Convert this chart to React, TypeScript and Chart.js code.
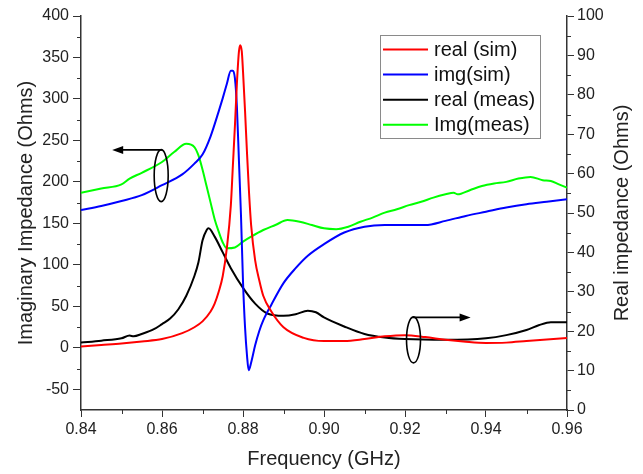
import React, { useEffect, useRef } from 'react';
import { Chart, registerables } from 'chart.js';

Chart.register(...registerables);

// ---------- tick labels ----------
const freqTicks = [0.84, 0.86, 0.88, 0.9, 0.92, 0.94, 0.96];
const freqMinor = [0.85, 0.87, 0.89, 0.91, 0.93, 0.95];
const leftTicks = [-50, 0, 50, 100, 150, 200, 250, 300, 350, 400];
const leftMinor = [-25, 25, 75, 125, 175, 225, 275, 325, 375];
const rightTicks = [0, 10, 20, 30, 40, 50, 60, 70, 80, 90, 100];
const rightMinor = [5, 15, 25, 35, 45, 55, 65, 75, 85, 95];

// ---------- series ----------
// real (sim) – right axis (Ohms)
const realSimFreq = [0.84, 0.845, 0.85, 0.855, 0.86, 0.865, 0.868, 0.87, 0.872, 0.873, 0.874, 0.875, 0.876, 0.877, 0.8775, 0.878, 0.8785, 0.879, 0.8793, 0.8797, 0.88, 0.8805, 0.881, 0.8815, 0.882, 0.883, 0.884, 0.885, 0.887, 0.89, 0.895, 0.9, 0.905, 0.91, 0.915, 0.92, 0.925, 0.93, 0.935, 0.94, 0.945, 0.95, 0.955, 0.96];
const realSimVals = [16.1, 16.5, 16.9, 17.4, 18.0, 19.5, 21, 22.5, 25, 27, 30, 34, 41, 52, 62, 72, 83, 91, 92.6, 91, 86, 76, 65, 55, 47, 38, 33, 29, 25, 21, 18.3, 17.5, 17.5, 18, 18.7, 19, 18.5, 17.8, 17.3, 17, 17.1, 17.5, 17.9, 18.3];

// img(sim) – left axis (Ohms)
const imgSimFreq = [0.84, 0.845, 0.85, 0.855, 0.86, 0.865, 0.868, 0.87, 0.872, 0.874, 0.875, 0.876, 0.877, 0.8775, 0.878, 0.8785, 0.879, 0.8795, 0.88, 0.8805, 0.881, 0.8814, 0.882, 0.883, 0.884, 0.885, 0.887, 0.89, 0.893, 0.896, 0.9, 0.905, 0.91, 0.915, 0.92, 0.925, 0.93, 0.935, 0.94, 0.945, 0.95, 0.955, 0.96];
const imgSimVals = [166, 171, 177, 184, 196, 209, 222, 233, 255, 285, 301, 318, 334, 334, 325, 290, 225, 160, 80, 25, -10, -27, -18, 3, 20, 33, 52, 78, 96, 111, 125, 139, 146, 148, 148, 148, 153, 159, 164, 169, 173, 176, 179];

// real (meas) – right axis (Ohms)
const realMeasFreq = [0.84, 0.845, 0.85, 0.852, 0.853, 0.855, 0.858, 0.86, 0.862, 0.864, 0.866, 0.868, 0.869, 0.87, 0.871, 0.8715, 0.873, 0.875, 0.877, 0.88, 0.883, 0.886, 0.89, 0.893, 0.896, 0.898, 0.9, 0.905, 0.91, 0.915, 0.92, 0.93, 0.94, 0.945, 0.95, 0.953, 0.956, 0.96];
const realMeasVals = [17.1, 17.6, 18.2, 18.9, 18.7, 19.3, 20.5, 21.8, 23.2, 25.5, 29, 34, 37.5, 43, 45.6, 46.1, 44, 40, 36, 31, 27, 24.5, 23.9, 24.3, 25.2, 24.8, 23.5, 21.2, 19.3, 18.4, 18.0, 17.8, 18.2, 19, 20.3, 21.5, 22.3, 22.3];

// Img(meas) – left axis (Ohms)
const imgMeasFreq = [0.84, 0.845, 0.85, 0.852, 0.855, 0.86, 0.863, 0.866, 0.868, 0.869, 0.87, 0.871, 0.872, 0.873, 0.874, 0.875, 0.876, 0.878, 0.88, 0.882, 0.885, 0.888, 0.891, 0.894, 0.897, 0.9, 0.903, 0.906, 0.909, 0.912, 0.915, 0.918, 0.921, 0.924, 0.927, 0.93, 0.932, 0.933, 0.936, 0.939, 0.942, 0.945, 0.948, 0.951, 0.954, 0.956, 0.958, 0.96];
const imgMeasVals = [187, 192, 197, 204, 211, 224, 236, 246, 242, 232, 215, 195, 175, 155, 140, 127, 120, 121, 128, 134, 142, 148, 154, 152, 148, 144, 143, 146, 152, 157, 163, 167, 172, 176, 181, 185, 187, 185, 190, 195, 198, 200, 204, 206, 202, 201, 197, 193];

const seriesLabels = ['real (sim)', 'img(sim)', 'real (meas)', 'Img(meas)'];
const seriesColors = ['#ff0000', '#0000ff', '#000000', '#00ff00'];
const rightTitle = 'Real impedance (Ohms)';

// annotation anchors (data coordinates)
const leftMarker = { f: 0.8598, v: 207.6, tipF: 0.8477, arrowV: 238.5 };
const rightMarker = { f: 0.9221, v: 17.8, tipF: 0.9362, arrowV: 23.5 };

const FONT = "'Liberation Sans', Arial, sans-serif";
const AXIS = '#333333';
const TEXT = '#222222';

const zip = (xs: number[], ys: number[]) => xs.map((x, i) => ({ x, y: ys[i] }));

const decorPlugin = {
  id: 'decor',
  afterDraw(chart: any) {
    const { ctx, chartArea } = chart;
    const sx = chart.scales.x;
    const yl = chart.scales.yL;
    const yr = chart.scales.yR;
    ctx.save();
    // minor ticks
    ctx.strokeStyle = AXIS;
    ctx.lineWidth = 1;
    ctx.beginPath();
    leftMinor.forEach((v) => {
      const y = Math.round(yl.getPixelForValue(v)) + 0.5;
      ctx.moveTo(chartArea.left - 4, y);
      ctx.lineTo(chartArea.left, y);
    });
    rightMinor.forEach((v) => {
      const y = Math.round(yr.getPixelForValue(v)) + 0.5;
      ctx.moveTo(chartArea.right, y);
      ctx.lineTo(chartArea.right + 4, y);
    });
    freqMinor.forEach((f) => {
      const x = Math.round(sx.getPixelForValue(f)) + 0.5;
      ctx.moveTo(x, chartArea.bottom);
      ctx.lineTo(x, chartArea.bottom + 4);
    });
    ctx.stroke();

    // right axis title, reading bottom-to-top like the left one
    ctx.save();
    ctx.translate(yr.right - 21, (chartArea.top + chartArea.bottom) / 2);
    ctx.rotate(-Math.PI / 2);
    ctx.font = `20px ${FONT}`;
    ctx.fillStyle = TEXT;
    ctx.textAlign = 'center';
    ctx.textBaseline = 'middle';
    ctx.fillText(rightTitle, 0, 0);
    ctx.restore();

    // annotations: ellipses with arrows
    const drawMarker = (m: any, yScale: any, ry: number, dir: number) => {
      const cx = sx.getPixelForValue(m.f);
      const cy = yScale.getPixelForValue(m.v);
      const ay = yScale.getPixelForValue(m.arrowV);
      const tx = sx.getPixelForValue(m.tipF);
      ctx.strokeStyle = '#000';
      ctx.lineWidth = 1.6;
      ctx.beginPath();
      ctx.ellipse(cx, cy, 7, ry, 0, 0, Math.PI * 2);
      ctx.stroke();
      ctx.lineWidth = 1.8;
      ctx.beginPath();
      ctx.moveTo(cx + dir * -1, ay);
      ctx.lineTo(tx - dir * 8, ay);
      ctx.stroke();
      ctx.fillStyle = '#000';
      ctx.beginPath();
      ctx.moveTo(tx, ay);
      ctx.lineTo(tx - dir * 11, ay - 4);
      ctx.lineTo(tx - dir * 11, ay + 4);
      ctx.closePath();
      ctx.fill();
    };
    drawMarker(leftMarker, yl, 26, -1);
    drawMarker(rightMarker, yr, 23, 1);

    // legend box
    const bx = chartArea.right - 187;
    const by = chartArea.top + 19;
    const bw = 160;
    const bh = 103;
    ctx.fillStyle = '#ffffff';
    ctx.fillRect(bx, by, bw, bh);
    ctx.strokeStyle = '#8a8a8a';
    ctx.lineWidth = 1;
    ctx.strokeRect(bx + 0.5, by + 0.5, bw, bh);
    ctx.font = `20px ${FONT}`;
    ctx.textBaseline = 'middle';
    ctx.textAlign = 'left';
    chart.data.datasets.forEach((ds: any, i: number) => {
      const y = by + 14.5 + i * 25.1;
      ctx.strokeStyle = ds.borderColor;
      ctx.lineWidth = 2;
      ctx.beginPath();
      ctx.moveTo(bx + 3, y);
      ctx.lineTo(bx + 48, y);
      ctx.stroke();
      ctx.fillStyle = '#111';
      ctx.fillText(ds.label, bx + 54, y + 1);
    });
    ctx.restore();
  },
};

export default function App() {
  const ref = useRef<HTMLCanvasElement | null>(null);
  useEffect(() => {
    document.body.style.margin = '0';
    const canvas = ref.current!;
    const tickFont = { family: FONT, size: 16 };
    const titleFont = { family: FONT, size: 20, lineHeight: 1.2 };
    const chart = new Chart(canvas, {
      type: 'line',
      data: {
        datasets: [
          { label: seriesLabels[0], data: zip(realSimFreq, realSimVals), borderColor: seriesColors[0], yAxisID: 'yR' },
          { label: seriesLabels[1], data: zip(imgSimFreq, imgSimVals), borderColor: seriesColors[1], yAxisID: 'yL' },
          { label: seriesLabels[2], data: zip(realMeasFreq, realMeasVals), borderColor: seriesColors[2], yAxisID: 'yR' },
          { label: seriesLabels[3], data: zip(imgMeasFreq, imgMeasVals), borderColor: seriesColors[3], yAxisID: 'yL' },
        ].map((d) => ({ ...d, borderWidth: 2, pointRadius: 0, fill: false, cubicInterpolationMode: 'monotone' as const })),
      },
      options: {
        animation: false,
        responsive: false,
        devicePixelRatio: 1,
        layout: { padding: { top: 16, right: 0, left: 0, bottom: 0 } },
        plugins: { legend: { display: false }, tooltip: { enabled: false } },
        scales: {
          x: {
            type: 'linear',
            min: 0.84,
            max: 0.96,
            afterBuildTicks: (s: any) => { s.ticks = freqTicks.map((v) => ({ value: v })); },
            afterFit: (s: any) => { s.height = 64; },
            ticks: { font: tickFont, color: TEXT, padding: 3, maxRotation: 0, callback: (v: any) => Number(v).toFixed(2) },
            grid: { drawOnChartArea: false, drawTicks: true, tickLength: 7, color: AXIS },
            border: { display: true, color: AXIS, width: 1.5 },
            title: { display: true, text: 'Frequency (GHz)', font: titleFont, color: TEXT, padding: { top: 0, bottom: 3 } },
          },
          yL: {
            type: 'linear',
            position: 'left',
            min: -75,
            max: 400,
            afterBuildTicks: (s: any) => { s.ticks = leftTicks.map((v) => ({ value: v })); },
            afterFit: (s: any) => { s.width = 81; },
            ticks: { font: tickFont, color: TEXT, padding: 4 },
            grid: { drawOnChartArea: false, drawTicks: true, tickLength: 8, color: AXIS },
            border: { display: true, color: AXIS, width: 1.5 },
            title: { display: true, text: 'Imaginary Impedance (Ohms)', font: titleFont, color: TEXT, padding: { top: 14, bottom: 0 } },
          },
          yR: {
            type: 'linear',
            position: 'right',
            min: 0,
            max: 100,
            afterBuildTicks: (s: any) => { s.ticks = rightTicks.map((v) => ({ value: v })); },
            afterFit: (s: any) => { s.width = 76; },
            ticks: { font: tickFont, color: TEXT, padding: 3 },
            grid: { drawOnChartArea: false, drawTicks: true, tickLength: 7, color: AXIS },
            border: { display: true, color: AXIS, width: 1.5 },
            title: { display: false },
          },
        },
      },
      plugins: [decorPlugin],
    } as any);
    return () => chart.destroy();
  }, []);

  return (
    <div style={{ position: 'fixed', left: 0, top: 0, width: 643, height: 474, background: '#fff' }}>
      <canvas ref={ref} width={643} height={474} />
    </div>
  );
}
